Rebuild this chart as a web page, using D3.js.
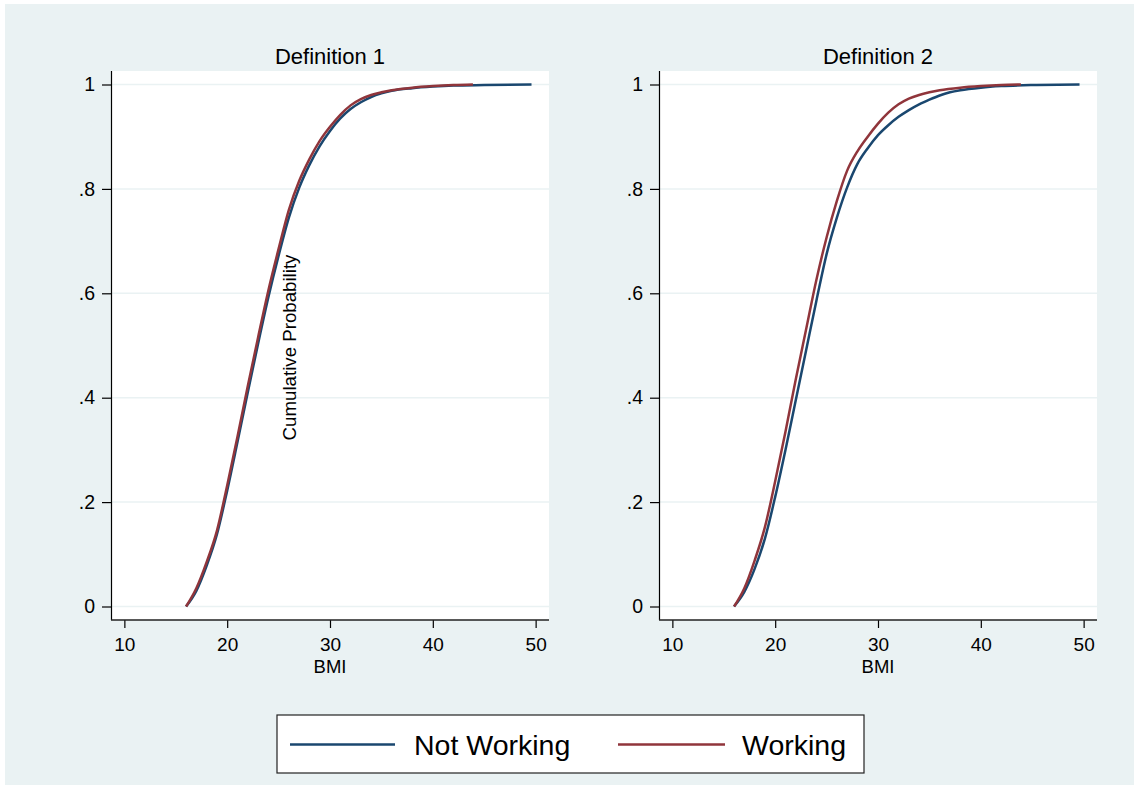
<!DOCTYPE html>
<html>
<head>
<meta charset="utf-8">
<script src="https://cdn.jsdelivr.net/npm/d3@7"></script>
<style>
  html, body { margin: 0; padding: 0; background: #ffffff; }
  svg { display: block; font-family: "Liberation Sans", Arial, sans-serif; }
</style>
</head>
<body>
<svg id="chart" width="1134" height="785"></svg>
<script>
// Cumulative distribution of BMI by working status, two definitions
const panelTitles = ["Definition 1", "Definition 2"];
const seriesNames = ["Not Working", "Working"];
const xTicks = [10, 20, 30, 40, 50];
const yTicks = [0, 0.2, 0.4, 0.6, 0.8, 1];
const yTickLabels = ["0", ".2", ".4", ".6", ".8", "1"];

// Definition 1
const def1NotWorkingBmi = [16, 17, 18, 19, 20, 21, 22, 23, 24, 25, 26, 27, 28, 29, 30, 31, 32, 33, 34, 35, 36, 38, 40, 42, 45, 49.6];
const def1NotWorkingCdf = [0, 0.03, 0.078, 0.138, 0.222, 0.315, 0.41, 0.503, 0.592, 0.672, 0.745, 0.802, 0.846, 0.882, 0.911, 0.935, 0.953, 0.966, 0.976, 0.983, 0.988, 0.993, 0.996, 0.998, 0.999, 1];
const def1WorkingBmi = [16, 17, 18, 19, 20, 21, 22, 23, 24, 25, 26, 27, 28, 29, 30, 31, 32, 33, 34, 35, 36, 38, 40, 42, 43.9];
const def1WorkingCdf = [0, 0.035, 0.085, 0.145, 0.232, 0.325, 0.422, 0.515, 0.605, 0.685, 0.76, 0.815, 0.857, 0.892, 0.919, 0.942, 0.96, 0.972, 0.98, 0.985, 0.989, 0.994, 0.997, 0.999, 1];

// Definition 2
const def2NotWorkingBmi = [16, 17, 18, 19, 20, 21, 22, 23, 24, 25, 26, 27, 28, 29, 30, 31, 32, 33, 34, 35, 36, 37, 38, 40, 42, 45, 49.6];
const def2NotWorkingCdf = [0, 0.028, 0.072, 0.13, 0.21, 0.3, 0.395, 0.49, 0.585, 0.675, 0.745, 0.803, 0.848, 0.878, 0.903, 0.922, 0.938, 0.951, 0.962, 0.971, 0.979, 0.985, 0.989, 0.994, 0.997, 0.999, 1];
const def2WorkingBmi = [16, 17, 18, 19, 20, 21, 22, 23, 24, 25, 26, 27, 28, 29, 30, 31, 32, 33, 34, 35, 36, 38, 40, 42, 43.9];
const def2WorkingCdf = [0, 0.035, 0.088, 0.152, 0.24, 0.335, 0.435, 0.53, 0.625, 0.707, 0.777, 0.835, 0.872, 0.9, 0.925, 0.946, 0.962, 0.973, 0.98, 0.985, 0.989, 0.994, 0.997, 0.999, 1];

const colors = ["#1a476f", "#90353b"];
const bg = "#eaf2f3";
const font = "Liberation Sans, Arial, sans-serif";

const panels = [
  { title: panelTitles[0], left: 111, series: [
      { bmi: def1NotWorkingBmi, cdf: def1NotWorkingCdf },
      { bmi: def1WorkingBmi, cdf: def1WorkingCdf } ] },
  { title: panelTitles[1], left: 659, series: [
      { bmi: def2NotWorkingBmi, cdf: def2NotWorkingCdf },
      { bmi: def2WorkingBmi, cdf: def2WorkingCdf } ] }
];

const svg = d3.select("#chart");

// graph region background
svg.append("rect")
  .attr("x", 5).attr("y", 4)
  .attr("width", 1129).attr("height", 781)
  .attr("fill", bg);

const plotW = 438, plotTop = 71, plotBottom = 620;

panels.forEach((p, i) => {
  const g = svg.append("g").attr("transform", `translate(${p.left},0)`);

  const x = d3.scaleLinear().domain([8.7, 51.3]).range([0, plotW]);
  const y = d3.scaleLinear().domain([0, 1]).range([606.5, 84.5]);

  // plot area
  g.append("rect")
    .attr("x", 0).attr("y", plotTop)
    .attr("width", plotW).attr("height", plotBottom - plotTop)
    .attr("fill", "#ffffff");

  // horizontal gridlines
  g.selectAll("line.grid").data(yTicks).join("line")
    .attr("class", "grid")
    .attr("x1", 0).attr("x2", plotW)
    .attr("y1", d => y(d)).attr("y2", d => y(d))
    .attr("stroke", bg).attr("stroke-width", 1.5);

  // CDF lines
  const line = d3.line()
    .x(d => x(d[0]))
    .y(d => y(d[1]))
    .curve(d3.curveMonotoneX);

  p.series.forEach((s, k) => {
    const pts = s.bmi.map((b, j) => [b, s.cdf[j]]);
    g.append("path")
      .datum(pts)
      .attr("d", line)
      .attr("fill", "none")
      .attr("stroke", colors[k])
      .attr("stroke-width", 2.5)
      .attr("stroke-linejoin", "round");
  });

  // y axis
  const yAxis = d3.axisLeft(y)
    .tickValues(yTicks)
    .tickFormat((d, j) => yTickLabels[j])
    .tickSize(9)
    .tickPadding(7);
  const ya = g.append("g").call(yAxis);
  ya.select(".domain").remove();
  ya.append("line")
    .attr("x1", 0.5).attr("x2", 0.5)
    .attr("y1", plotTop).attr("y2", plotBottom)
    .attr("stroke", "#000").attr("stroke-width", 1.2);
  ya.selectAll(".tick line").attr("stroke", "#000").attr("stroke-width", 1.2);
  ya.selectAll(".tick text")
    .attr("font-size", 19.5).attr("fill", "#000")
    .attr("font-family", font);

  // x axis
  const xAxis = d3.axisBottom(x)
    .tickValues(xTicks)
    .tickFormat(d3.format("d"))
    .tickSize(8)
    .tickPadding(10);
  const xa = g.append("g").attr("transform", `translate(0,${plotBottom})`).call(xAxis);
  xa.select(".domain").remove();
  xa.append("line")
    .attr("x1", 0).attr("x2", plotW)
    .attr("y1", 0).attr("y2", 0)
    .attr("stroke", "#222").attr("stroke-width", 1.6);
  xa.selectAll(".tick line").attr("stroke", "#000").attr("stroke-width", 1.2);
  xa.selectAll(".tick text")
    .attr("font-size", 19).attr("fill", "#000")
    .attr("font-family", font);

  // x axis title
  g.append("text")
    .attr("x", x(30)).attr("y", 673)
    .attr("text-anchor", "middle")
    .attr("font-size", 18.5)
    .text("BMI");

  // panel title
  g.append("text")
    .attr("x", plotW / 2).attr("y", 64)
    .attr("text-anchor", "middle")
    .attr("font-size", 22)
    .text(p.title);

  if (i === 0) {
    g.append("text")
      .attr("transform", `translate(${296 - p.left},347.5) rotate(-90)`)
      .attr("text-anchor", "middle")
      .attr("font-size", 18.7)
      .text("Cumulative Probability");
  }
});

// legend
const legend = svg.append("g");
legend.append("rect")
  .attr("x", 277).attr("y", 715)
  .attr("width", 587).attr("height", 58)
  .attr("fill", "#ffffff")
  .attr("stroke", "#222").attr("stroke-width", 1.2);

const legendItems = [
  { name: seriesNames[0], color: colors[0], x1: 290, x2: 395, tx: 414 },
  { name: seriesNames[1], color: colors[1], x1: 618, x2: 725, tx: 742 }
];
legendItems.forEach(it => {
  legend.append("line")
    .attr("x1", it.x1).attr("x2", it.x2)
    .attr("y1", 744.5).attr("y2", 744.5)
    .attr("stroke", it.color).attr("stroke-width", 2.5);
  legend.append("text")
    .attr("x", it.tx).attr("y", 755)
    .attr("font-size", 28.5)
    .text(it.name);
});
</script>
</body>
</html>
